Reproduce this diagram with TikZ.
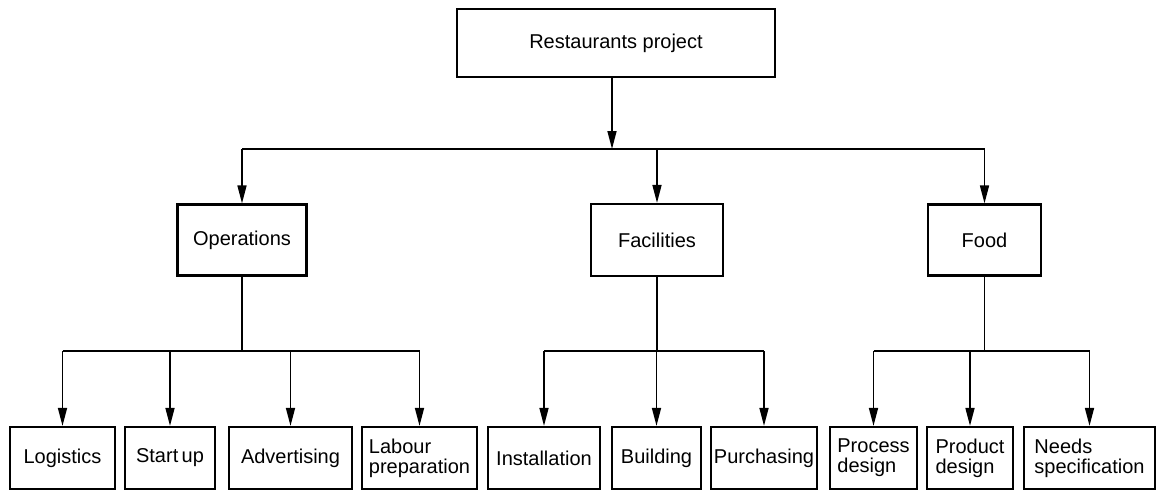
\documentclass[tikz,border=0pt]{standalone}
\usepackage{fontspec}
\setmainfont{Liberation Sans}
\usetikzlibrary{arrows.meta}
\begin{document}
\begin{tikzpicture}[x=1pt,y=-1pt,
  wbox/.style={draw, line width=2.2pt, inner sep=0pt, align=center,
    font=\fontsize{20}{20}\selectfont},
  twoline/.style={wbox, align=left},
  link/.style={line width=1.6pt},
  arr/.style={link, -{Triangle[length=18pt,width=9pt]}}]
\useasboundingbox (0,0) rectangle (1160,491);

% level 0
\node[wbox, minimum width=318pt, minimum height=68pt] (top) at (616,43) {Restaurants project};

% level 1
\node[wbox, minimum width=129pt, minimum height=71pt] (ops)  at (242,240)   {Operations};
\node[wbox, minimum width=132pt, minimum height=72pt] (fac)  at (657,240)   {Facilities};
\node[wbox, minimum width=113pt, minimum height=71pt] (food) at (984.5,240) {Food};

% level 2
\tikzset{leaf/.style={minimum height=62pt}}
\node[wbox, leaf, minimum width=105pt] (log)   at (62.5,458)  {Logistics};
\node[wbox, leaf, minimum width=90pt]  (start) at (170,458)   {Start\,up};
\node[wbox, leaf, minimum width=123pt] (adv)   at (290.5,458) {Advertising};
\node[twoline, leaf, minimum width=115pt] (lab) at (419.5,458) {Labour\\preparation};
\node[wbox, leaf, minimum width=112pt] (inst)  at (544,458)   {Installation};
\node[wbox, leaf, minimum width=89pt]  (build) at (656.5,458) {Building};
\node[wbox, leaf, minimum width=106pt] (purch) at (764,458)   {Purchasing};
\node[twoline, leaf, minimum width=87pt]  (proc)  at (873.5,458) {Process\\design};
\node[twoline, leaf, minimum width=86pt]  (prod)  at (970,458)   {Product\\design};
\node[twoline, leaf, minimum width=131pt] (needs) at (1089.5,458) {Needs\\specification};

% first-level bus
\coordinate (hub) at (612,149);
\coordinate (busL) at (ops.north |- hub);
\coordinate (busR) at (food.north |- hub);
\draw[arr] (top.south -| hub) -- (hub);
\draw[link] (busL) -- (busR);
\draw[arr] (busL) -- (ops.north);
\draw[arr] (fac.north |- hub) -- (fac.north);
\draw[arr] (busR) -- (food.north);

% second-level buses
\coordinate (opsbus)  at (ops.south |- 0,351);
\coordinate (facbus)  at (fac.south |- 0,351);
\coordinate (foodbus) at (food.south |- 0,351);
\draw[link] (ops.south) -- (opsbus);
\draw[link] (fac.south) -- (facbus);
\draw[link] (food.south) -- (foodbus);
\draw[link] (log.north |- opsbus) -- (lab.north |- opsbus);
\draw[link] (inst.north |- facbus) -- (purch.north |- facbus);
\draw[link] (proc.north |- foodbus) -- (needs.north |- foodbus);

\foreach \c in {log,start,adv,lab}
  \draw[arr] (\c.north |- opsbus) -- (\c.north);
\foreach \c in {inst,build,purch}
  \draw[arr] (\c.north |- facbus) -- (\c.north);
\foreach \c in {proc,prod,needs}
  \draw[arr] (\c.north |- foodbus) -- (\c.north);
\end{tikzpicture}
\end{document}
